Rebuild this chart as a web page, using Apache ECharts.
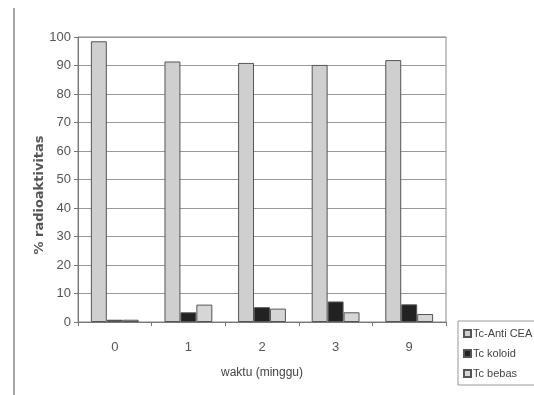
<!DOCTYPE html>
<html>
<head>
<meta charset="utf-8">
<script src="https://cdn.jsdelivr.net/npm/echarts@6/dist/echarts.min.js"></script>
<style>html,body{margin:0;padding:0;background:#fff}#c{width:534px;height:395px}</style>
</head>
<body>
<div id="c"></div>
<script>
const categories = ['0', '1', '2', '3', '9'];
const antiCEA = [98.5, 91.4, 90.9, 90.2, 91.9];
const koloid = [0.8, 3.4, 5.2, 7.2, 6.2];
const bebas = [0.8, 6.1, 4.7, 3.4, 2.8];
const yTicks = [0, 10, 20, 30, 40, 50, 60, 70, 80, 90, 100];

const chart = echarts.init(document.getElementById('c'));
const font = 'Liberation Sans Narrow, Arial Narrow, Liberation Sans, Arial, sans-serif';
const barBorder = { borderColor: '#555', borderWidth: 1 };
chart.setOption({
  animation: false,
  backgroundColor: '#fff',
  textStyle: { fontFamily: font },
  grid: { left: 78, right: 88, top: 37, bottom: 73, show: true, borderColor: '#888', borderWidth: 1, containLabel: false },
  legend: {
    orient: 'vertical',
    left: 458, top: 321,
    width: 74, height: 70,
    padding: [7, 4, 6, 5],
    itemGap: 9,
    itemWidth: 7, itemHeight: 7,
    borderColor: '#999', borderWidth: 1,
    textStyle: { fontSize: 11, color: '#444', fontFamily: font, padding: [0, 0, 0, -3] },
    data: [
      { name: 'Tc-Anti CEA', icon: 'rect' },
      { name: 'Tc koloid', icon: 'rect' },
      { name: 'Tc bebas', icon: 'rect' }
    ]
  },
  xAxis: {
    type: 'category',
    data: categories,
    name: 'waktu (minggu)',
    nameLocation: 'middle',
    nameGap: 45,
    nameTextStyle: { fontSize: 12, color: '#444', fontFamily: font },
    axisLine: { lineStyle: { color: '#777' } },
    axisTick: { show: true, alignWithLabel: false, length: 4, lineStyle: { color: '#777' } },
    axisLabel: { fontSize: 13, color: '#555', margin: 19, fontFamily: font }
  },
  yAxis: {
    type: 'value',
    min: 0, max: 100, interval: 10,
    axisLine: { show: true, lineStyle: { color: '#777' } },
    axisTick: { show: true, inside: false, length: 4, lineStyle: { color: '#777' } },
    axisLabel: { fontSize: 13, color: '#555', margin: 7, fontFamily: font,
      formatter: v => yTicks.includes(v) ? String(v) : '' },
    splitLine: { show: true, lineStyle: { color: '#999', width: 1 } }
  },
  series: [
    { name: 'Tc-Anti CEA', type: 'bar', data: antiCEA, barGap: '0%', barCategoryGap: '35%',
      itemStyle: Object.assign({ color: '#cfcfcf' }, barBorder) },
    { name: 'Tc koloid', type: 'bar', data: koloid,
      itemStyle: Object.assign({ color: '#222' }, barBorder) },
    { name: 'Tc bebas', type: 'bar', data: bebas,
      itemStyle: Object.assign({ color: '#d6d6d6' }, barBorder) }
  ],
  graphic: [
    { type: 'line', shape: { x1: 14, y1: 8, x2: 14, y2: 395 }, style: { stroke: '#888', lineWidth: 1.5 } },
    { type: 'text', x: 40, y: 195, rotation: Math.PI / 2,
      style: { text: '% radioaktivitas', fontSize: 13, fontWeight: 'bold', fill: '#555',
        fontFamily: 'DejaVu Sans, sans-serif', align: 'center', verticalAlign: 'middle' } }
  ]
});
</script>
</body>
</html>
